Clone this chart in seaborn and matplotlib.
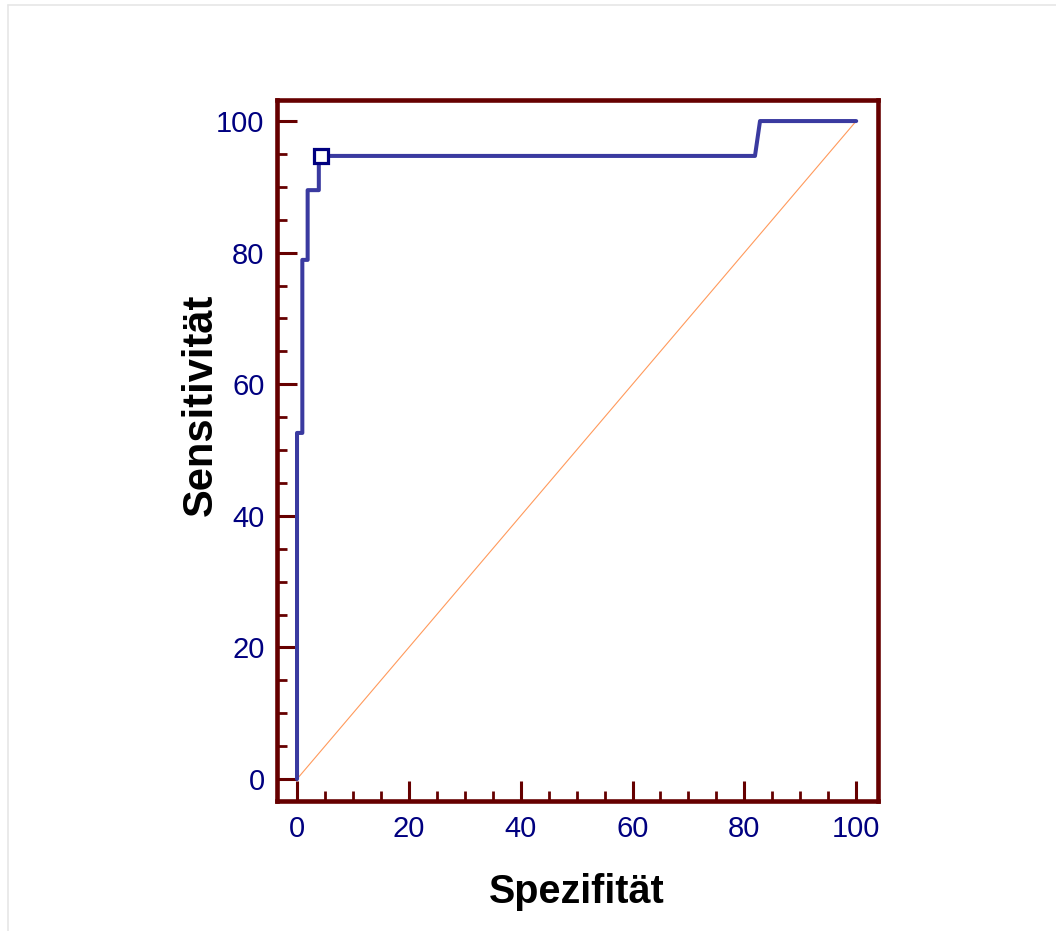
import matplotlib
matplotlib.use("Agg")
import matplotlib.pyplot as plt
from matplotlib.lines import Line2D
from matplotlib.ticker import MultipleLocator
import seaborn as sns
import pandas as pd

# ROC curve points (x = Spezifität axis, y = Sensitivität)
spec = [0.0, 0.0, 0.95, 0.95, 1.9, 1.9, 3.9, 3.9, 81.9, 82.8, 100.0]
sens = [0.0, 52.6, 52.6, 78.9, 78.9, 89.5, 89.5, 94.7, 94.7, 100.0, 100.0]
# Optimal cut-off marker
cut_x = [4.3]
cut_y = [94.7]
# Reference diagonal
diag_x = [0, 100]
diag_y = [0, 100]
xticks = [0, 20, 40, 60, 80, 100]
yticks = [0, 20, 40, 60, 80, 100]

sns.set_theme(style="white")
plt.rcParams['font.family'] = ['Liberation Sans', 'DejaVu Sans']

W, H = 1056, 931
fig = plt.figure(figsize=(W / 100, H / 100), dpi=100)
ax = fig.add_axes([277 / W, 1 - 801 / H, 601 / W, 701 / H])

curve = pd.DataFrame({"x": spec, "y": sens})
diag = pd.DataFrame({"x": diag_x, "y": diag_y})
cut = pd.DataFrame({"x": cut_x, "y": cut_y})

sns.lineplot(data=diag, x="x", y="y", ax=ax, color="#ff9a5c", lw=0.8,
             sort=False, estimator=None, zorder=2)
sns.lineplot(data=curve, x="x", y="y", ax=ax, color="#3a3aa0", lw=2.9,
             sort=False, estimator=None, zorder=3)
ax.plot(cut["x"], cut["y"], linestyle="none", marker="s", markersize=9.5,
        markerfacecolor="white", markeredgecolor="#000080",
        markeredgewidth=2.3, zorder=4)

ax.set_xlim(-3.58, 103.9)
ax.set_ylim(-3.34, 103.2)

dark = "#660000"
for s in ax.spines.values():
    s.set_color(dark)
    s.set_linewidth(3.3)
    s.set_visible(True)

ax.set_xticks(xticks)
ax.set_yticks(yticks)
ax.xaxis.set_minor_locator(MultipleLocator(5))
ax.yaxis.set_minor_locator(MultipleLocator(5))
ax.tick_params(which="major", direction="in", length=14.5, width=2.2,
               color=dark, labelsize=21, labelcolor="#000080")
ax.tick_params(axis="x", which="major", pad=10)
ax.tick_params(axis="y", which="major", pad=9)
ax.tick_params(which="minor", direction="in", length=7, width=2.0, color=dark)
ax.tick_params(bottom=True, left=True, top=False, right=False, which="both")
ax.set_xlabel("")
ax.set_ylabel("")
ax.grid(False)

fig.text(577 / W, 1 - 903 / H, "Spezifität", ha="center", va="baseline",
         fontsize=28.5, fontweight="bold", color="black")
fig.text(212 / W, 1 - 405 / H, "Sensitivität", ha="center", va="baseline",
         rotation=90, rotation_mode="anchor",
         fontsize=30, fontweight="bold", color="black")

# faint frame lines of the original image
fig.add_artist(Line2D([8 / W, 1], [1 - 5 / H, 1 - 5 / H], color="#e6e6e6",
                      lw=1.2, transform=fig.transFigure))
fig.add_artist(Line2D([8 / W, 8 / W], [0, 1 - 5 / H], color="#e6e6e6",
                      lw=1.2, transform=fig.transFigure))

fig.savefig("out.png", dpi=100)
